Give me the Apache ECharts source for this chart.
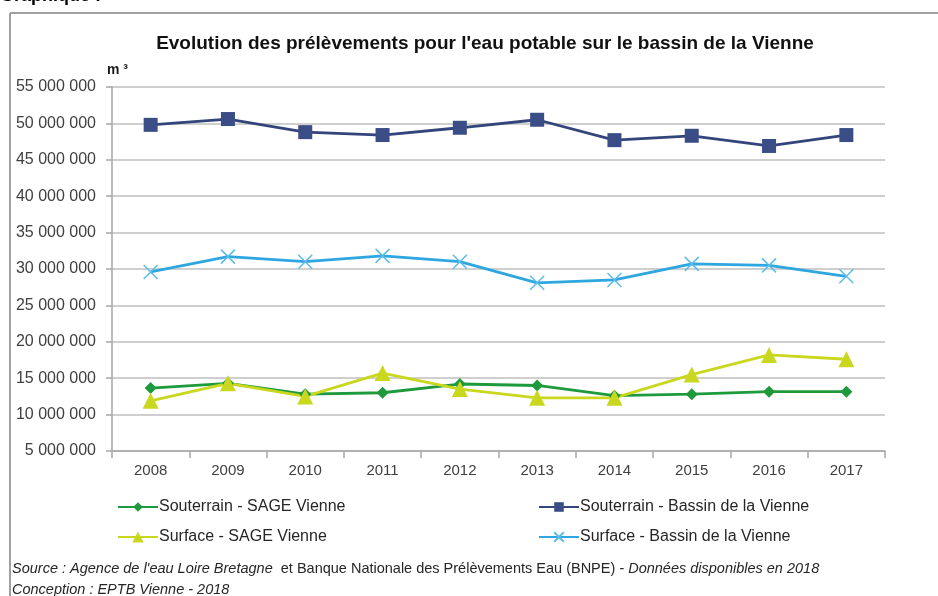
<!DOCTYPE html>
<html>
<head>
<meta charset="utf-8">
<script src="https://cdn.jsdelivr.net/npm/echarts@6/dist/echarts.min.js"></script>
<style>
html,body{margin:0;padding:0;background:#fff;}
#chart{width:938px;height:596px;}
</style>
</head>
<body>
<div id="chart"></div>
<script>
var years = ['2008','2009','2010','2011','2012','2013','2014','2015','2016','2017'];
var souterrainSage = [13650000, 14300000, 12800000, 13000000, 14200000, 14000000, 12600000, 12800000, 13150000, 13150000];
var souterrainBassin = [49800000, 50600000, 48800000, 48400000, 49400000, 50500000, 47700000, 48300000, 46900000, 48400000];
var surfaceSage = [11900000, 14300000, 12500000, 15700000, 13500000, 12300000, 12300000, 15500000, 18200000, 17600000];
var surfaceBassin = [29600000, 31700000, 31000000, 31800000, 31000000, 28100000, 28500000, 30700000, 30500000, 29000000];
var yTicks = {min: 5000000, max: 55000000, step: 5000000};

var FONT = 'Liberation Sans, Arial, sans-serif';
var chart = echarts.init(document.getElementById('chart'), null, {renderer: 'canvas'});

function fmt(v) {
  return String(v).replace(/\B(?=(\d{3})+(?!\d))/g, ' ');
}

var crossPath = 'path://M0,0L10,10M10,0L0,10';
var legendText = {fontFamily: FONT, fontSize: 16, color: '#262626', padding: [0,0,0,-4]};

var option = {
  backgroundColor: '#ffffff',
  animation: false,
  title: {
    text: "Evolution des prélèvements pour l'eau potable sur le bassin de la Vienne",
    left: 480, top: 29, textAlign: 'center',
    textStyle: {fontFamily: FONT, fontSize: 19, fontWeight: 'bold', color: '#111'}
  },
  grid: {left: 112, right: 53, top: 87, bottom: 145, containLabel: false},
  xAxis: {
    type: 'category',
    data: years,
    boundaryGap: true,
    axisLine: {show: true, lineStyle: {color: '#a6a6a6', width: 1.5}},
    axisTick: {show: true, length: 7, lineStyle: {color: '#a6a6a6', width: 1.5}},
    axisLabel: {fontFamily: FONT, fontSize: 15, color: '#404040', margin: 12}
  },
  yAxis: {
    type: 'value',
    min: yTicks.min, max: yTicks.max, interval: yTicks.step,
    axisLine: {show: true, lineStyle: {color: '#a6a6a6', width: 1.5}},
    axisTick: {show: true, length: 6, lineStyle: {color: '#a6a6a6', width: 1.5}},
    splitLine: {show: true, lineStyle: {color: '#bfbfbf', width: 1.5}},
    axisLabel: {fontFamily: FONT, fontSize: 16, color: '#404040', margin: 16, formatter: fmt}
  },
  legend: [
    {data: ['Souterrain - SAGE Vienne'], left: 117, top: 499, padding: 0, itemWidth: 40, itemHeight: 12, textStyle: legendText},
    {data: ['Souterrain - Bassin de la Vienne'], left: 538, top: 499, padding: 0, itemWidth: 40, itemHeight: 12, textStyle: legendText},
    {data: ['Surface - SAGE Vienne'], left: 117, top: 529, padding: 0, itemWidth: 40, itemHeight: 14, textStyle: legendText},
    {data: ['Surface - Bassin de la Vienne'], left: 538, top: 529, padding: 0, itemWidth: 40, itemHeight: 12, textStyle: legendText}
  ],
  series: [
    {
      name: 'Souterrain - SAGE Vienne', type: 'line', data: souterrainSage,
      symbol: 'diamond', symbolSize: 12,
      lineStyle: {color: '#1e9a3c', width: 2.8},
      itemStyle: {color: '#1e9a3c', borderColor: '#1e9a3c', borderWidth: 0}
    },
    {
      name: 'Souterrain - Bassin de la Vienne', type: 'line', data: souterrainBassin,
      symbol: 'rect', symbolSize: 14,
      lineStyle: {color: '#33457a', width: 2.8},
      itemStyle: {color: '#3a4d86', borderColor: '#3a4d86', borderWidth: 0}
    },
    {
      name: 'Surface - SAGE Vienne', type: 'line', data: surfaceSage,
      symbol: 'triangle', symbolSize: 16,
      lineStyle: {color: '#c9d71e', width: 2.8},
      itemStyle: {color: '#c9d71e', borderColor: '#c9d71e', borderWidth: 0}
    },
    {
      name: 'Surface - Bassin de la Vienne', type: 'line', data: surfaceBassin,
      symbol: crossPath, symbolSize: 14,
      lineStyle: {color: '#2ea6df', width: 2.8},
      itemStyle: {color: 'rgba(0,0,0,0)', borderColor: '#5cbbe9', borderWidth: 1.5}
    }
  ],
  graphic: [
    {type: 'text', left: 0, top: -13, style: {text: 'Graphique :', fontFamily: FONT, fontSize: 18, fontWeight: 'bold', fill: '#000'}},
    {type: 'line', shape: {x1: 10, y1: 13, x2: 938, y2: 13}, style: {stroke: '#a0a0a0', lineWidth: 2}},
    {type: 'line', shape: {x1: 10, y1: 13, x2: 10, y2: 596}, style: {stroke: '#a0a0a0', lineWidth: 2}},
    {type: 'text', left: 107, top: 63, style: {text: 'm ³', fontFamily: FONT, fontSize: 14, fontWeight: 'bold', fill: '#1a1a1a'}},
    {type: 'text', left: 12, top: 561, style: {
      text: '{i|Source : Agence de l\'eau Loire Bretagne}{n|  et Banque Nationale des Prélèvements Eau (BNPE)}{i| - Données disponibles en 2018}',
      rich: {
        i: {fontFamily: FONT, fontSize: 14.5, fontStyle: 'italic', fill: '#262626'},
        n: {fontFamily: FONT, fontSize: 14.5, fill: '#262626'}
      }
    }},
    {type: 'text', left: 12, top: 582, style: {text: 'Conception : EPTB Vienne - 2018', fontFamily: FONT, fontSize: 14.5, fontStyle: 'italic', fill: '#262626'}}
  ]
};
chart.setOption(option);
</script>
</body>
</html>
